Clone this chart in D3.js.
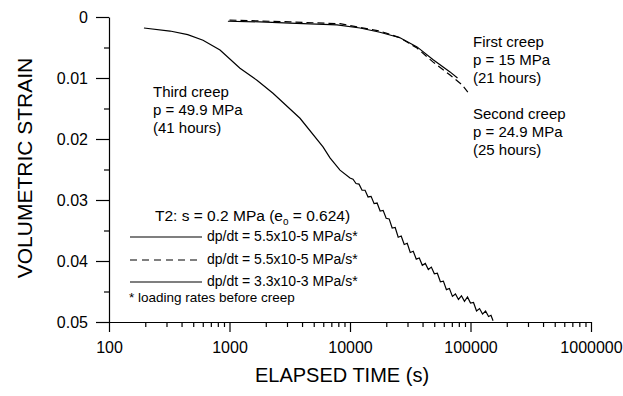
<!DOCTYPE html>
<html>
<head>
<meta charset="utf-8">
<script src="https://cdn.jsdelivr.net/npm/d3@7"></script>
<style>
body { margin: 0; background: #fff; }
svg { font-family: "Liberation Sans", Arial, sans-serif; }
.axis path, .axis line { stroke: #000; stroke-width: 1.2; }
.axis text { font-size: 16px; fill: #000; }
.curve { fill: none; stroke: #000; stroke-width: 1.2; }
</style>
</head>
<body>
<svg id="chart" width="623" height="396"></svg>
<script>
// elapsed time (s) and volumetric strain

var xMajor = [100, 1000, 10000, 100000, 1000000];
var yMajor = [0, 0.01, 0.02, 0.03, 0.04, 0.05];
var yMinor = [0.005, 0.015, 0.025, 0.035, 0.045];

var firstT = [970, 1790, 3170, 7800, 12100, 17700, 26000, 36000, 49000, 67600, 78000];
var firstS = [0.0007, 0.0008, 0.0010, 0.0013, 0.0018, 0.0025, 0.0034, 0.0049, 0.0070, 0.0090, 0.0100];

var secondT = [1000, 3170, 8260, 17700, 26000, 36000, 49000, 67600, 85000, 95000];
var secondS = [0.0005, 0.0008, 0.0011, 0.0023, 0.0034, 0.0051, 0.0074, 0.0095, 0.0111, 0.0123];

var thirdT = [195, 321, 450, 603, 834, 1222, 1700, 2296, 3846, 5970, 6823, 8260,
	10000, 10593, 11220, 11885, 12589, 13335, 14125, 14962, 15849, 16788, 17783, 18836,
	19953, 21135, 22387, 23714, 25119, 26607, 28184, 29854, 31623, 33497, 35481, 37584,
	39811, 42170, 44668, 47315, 50119, 53088, 56234, 59566, 63096, 66834, 70795, 74989,
	79433, 84140, 89125, 94406, 100000, 105925, 112202, 118850, 125893, 133352, 141254,
	147911, 153815];
var thirdS = [0.0018, 0.0023, 0.0029, 0.0038, 0.0054, 0.0084, 0.0104, 0.0125, 0.0166, 0.0213, 0.0231, 0.0251,
	0.0264, 0.0266, 0.0273, 0.0274, 0.0284, 0.0284, 0.0295, 0.0294, 0.0306, 0.0305, 0.0318, 0.0317,
	0.0330, 0.0331, 0.0346, 0.0345, 0.0361, 0.0359, 0.0373, 0.0371, 0.0386, 0.0384, 0.0397, 0.0395,
	0.0407, 0.0404, 0.0414, 0.0410, 0.0421, 0.0420, 0.0434, 0.0433, 0.0447, 0.0445, 0.0458, 0.0454,
	0.0463, 0.0457, 0.0466, 0.0459, 0.0469, 0.0468, 0.0482, 0.0478, 0.0487, 0.0482, 0.0491,
	0.0489, 0.0498];

var legendText = ["dp/dt = 5.5x10-5 MPa/s*", "dp/dt = 5.5x10-5 MPa/s*", "dp/dt = 3.3x10-3 MPa/s*"];
var legendDash = [null, "7,5", null];

var lPad = 109, tPad = 17;
var width = 482, height = 305;

var svg = d3.select("#chart");

var x = d3.scaleLog().domain([100, 1000000]).range([lPad, lPad + width]);
var y = d3.scaleLinear().domain([0, 0.05]).range([tPad, tPad + height]);

// minor ticks 2..9 in each decade
var xMinor = [];
xMajor.slice(0, -1).forEach(function(d) {
	for (var k = 2; k < 10; k++) xMinor.push(d * k);
});

var drawAxes = function() {
	svg.append("g")
		.attr("class", "axis")
		.attr("transform", "translate(0," + (tPad + height) + ")")
		.call(d3.axisBottom(x).tickValues(xMinor).tickSize(5).tickFormat(""))
		.select(".domain").remove();
	svg.append("g")
		.attr("class", "axis")
		.attr("transform", "translate(0," + (tPad + height) + ")")
		.call(d3.axisBottom(x).tickValues(xMajor).tickSizeInner(10).tickSizeOuter(0)
			.tickPadding(10).tickFormat(d3.format("d")));

	svg.append("g")
		.attr("class", "axis")
		.attr("transform", "translate(" + lPad + ",0)")
		.call(d3.axisLeft(y).tickValues(yMinor).tickSize(5).tickFormat(""))
		.select(".domain").remove();
	svg.append("g")
		.attr("class", "axis")
		.attr("transform", "translate(" + lPad + ",0)")
		.call(d3.axisLeft(y).tickValues(yMajor).tickSizeInner(13).tickSizeOuter(0)
			.tickPadding(8)
			.tickFormat(function(d) { return d === 0 ? "0" : d3.format(".2f")(d); }));

	svg.append("text")
		.attr("x", 342).attr("y", 382)
		.attr("text-anchor", "middle")
		.style("font-size", "20px")
		.text("ELAPSED TIME (s)");
	svg.append("text")
		.attr("transform", "translate(32,168) rotate(-90)")
		.attr("text-anchor", "middle")
		.style("font-size", "21px")
		.text("VOLUMETRIC STRAIN");
}

var drawCurve = function(ts, ss, dash, w) {
	var line = d3.line()
		.x(function(d) { return x(d.t); })
		.y(function(d) { return y(d.s); });
	svg.append("path")
		.datum(ts.map(function(t, i) { return { t: t, s: ss[i] }; }))
		.attr("class", "curve")
		.attr("stroke-dasharray", dash)
		.attr("stroke-width", w)
		.attr("d", line);
}

var addLines = function(px, py, lines) {
	var t = svg.append("text").style("font-size", "15px");
	lines.forEach(function(s, i) {
		t.append("tspan").attr("x", px).attr("y", py + i * 18).text(s);
	});
}

var drawLegend = function() {
	var head = svg.append("text")
		.attr("x", 155).attr("y", 221)
		.style("font-size", "15.5px")
		.text("T2: s = 0.2 MPa (e");
	head.append("tspan").attr("dy", 4).style("font-size", "10px").text("o");
	head.append("tspan").attr("dy", -4).text(" = 0.624)");

	var rows = [237, 260, 282];
	legendText.forEach(function(s, i) {
		svg.append("line")
			.attr("x1", 130).attr("x2", 202)
			.attr("y1", rows[i]).attr("y2", rows[i])
			.attr("stroke", "#000").attr("stroke-width", 1.2)
			.attr("stroke-dasharray", legendDash[i]);
		svg.append("text")
			.attr("x", 207).attr("y", rows[i] + 4)
			.style("font-size", "14px")
			.text(s);
	});
	svg.append("text")
		.attr("x", 129).attr("y", 302)
		.style("font-size", "13.5px")
		.text("* loading rates before creep");
}

drawAxes();
drawCurve(firstT, firstS, null, 1.2);
drawCurve(secondT, secondS, "7,4", 1.2);
drawCurve(thirdT, thirdS, null, 1.4);
addLines(153, 97, ["Third creep", "p = 49.9 MPa", "(41 hours)"]);
addLines(473, 47, ["First creep", "p = 15 MPa", "(21 hours)"]);
addLines(473, 119, ["Second creep", "p = 24.9 MPa", "(25 hours)"]);
drawLegend();
</script>
</body>
</html>
